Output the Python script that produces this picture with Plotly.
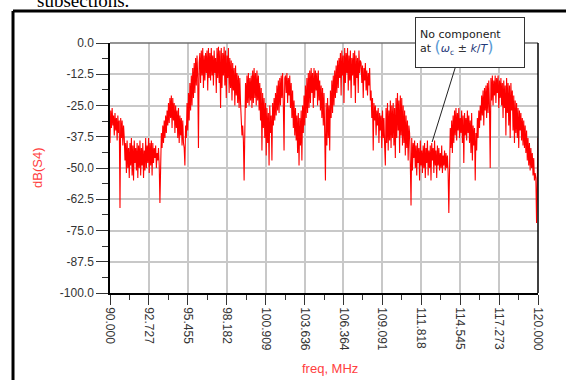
import numpy as np
import plotly.graph_objects as go

# ---- data ----
freq_start = 90.0
freq_stop = 120.0
dB_S4 = [
    # 90.00 - 90.95
    -40, -27, -34, -26, -33, -29, -37, -28, -35, -30, -39, -29, -36, -31, -66, -30, -38, -31, -41, -33,
    # 91
    -38, -47, -40, -52, -39, -50, -42, -54, -40, -49, -38, -53, -41, -55, -39, -48, -42, -51, -40, -54,
    # 92
    -41, -50, -39, -53, -42, -49, -40, -54, -43, -51, -38, -50, -41, -48, -38, -52, -40, -49, -39, -53,
    # 93
    -40, -48, -42, -46, -41, -50, -44, -47, -42, -49, -64, -38, -36, -42, -33, -40, -31, -38, -29, -36,
    # 94
    -27, -33, -24, -32, -22, -30, -21, -34, -22, -31, -24, -36, -25, -34, -27, -38, -26, -40, -29, -37,
    # 95
    -30, -41, -31, -40, -42, -49, -33, -38, -24, -35, -20, -31, -16, -27, -13, -25, -10, -22, -8, -20,
    # 96
    -6, -17, -5, -14, -42, -8, -4, -16, -3, -13, -2, -18, -5, -15, -4, -12, -3, -19, -2, -14,
    # 97
    -4, -15, -2, -13, -5, -17, -3, -12, -6, -20, -2, -14, -1.5, -16, -3, -26, -2, -18, -4, -13,
    # 98
    -1.5, -17, -3, -22, -5, -14, -2, -20, -6, -18, -7, -23, -8, -19, -10, -25, -9, -21, -12, -24,
    # 99
    -13, -26, -14, -24, -30, -37, -33, -39, -55, -31, -16, -26, -13, -24, -12, -25, -14, -23, -13, -26,
    # 100
    -11, -24, -10, -22, -12, -25, -11, -23, -13, -27, -16, -31, -18, -43, -20, -34, -22, -38, -24, -45,
    # 101
    -26, -40, -28, -49, -25, -36, -29, -47, -24, -33, -22, -31, -20, -29, -17, -27, -15, -28, -14, -25,
    # 102
    -13, -22, -12, -25, -43, -14, -13, -20, -12, -24, -14, -21, -13, -26, -16, -30, -19, -34, -23, -37,
    # 103
    -26, -39, -29, -44, -28, -49, -30, -41, -27, -47, -25, -36, -21, -33, -17, -30, -14, -28, -12, -26,
    # 104
    -11, -24, -10, -20, -12, -26, -10, -22, -11, -19, -12, -25, -11, -23, -15, -27, -17, -30, -18, -33,
    # 105
    -20, -36, -55, -24, -41, -22, -38, -25, -43, -19, -30, -15, -28, -13, -25, -11, -22, -9, -20, -7,
    # 106
    -18, -6, -14, -4, -21, -3, -13, -5, -24, -2, -16, -4, -12, -2, -19, -5, -15, -3, -22, -6,
    # 107
    -13, -4, -17, -3, -24, -5, -14, -6, -20, -3, -12, -7, -8, -16, -9, -22, -10, -15, -8, -19,
    # 108
    -11, -21, -12, -17, -10, -23, -19, -30, -22, -43, -24, -31, -25, -37, -27, -33, -26, -40, -28, -35,
    # 109
    -29, -42, -27, -38, -30, -41, -49, -26, -40, -24, -43, -27, -39, -23, -42, -25, -38, -24, -41, -26,
    # 110
    -46, -22, -38, -20, -35, -23, -44, -21, -37, -22, -41, -25, -40, -27, -45, -29, -42, -31, -47, -33,
    # 111
    -36, -48, -65, -38, -51, -40, -46, -39, -50, -41, -53, -40, -48, -42, -55, -39, -49, -43, -52, -41,
    # 112
    -50, -40, -54, -42, -48, -39, -53, -43, -50, -41, -55, -40, -47, -42, -52, -39, -49, -43, -54, -41,
    # 113
    -49, -42, -51, -44, -50, -41, -52, -45, -49, -43, -51, -44, -50, -45, -52, -68, -38, -34, -42, -31,
    # 114
    -44, -29, -40, -27, -37, -26, -39, -28, -35, -26, -38, -30, -36, -27, -40, -29, -48, -28, -37, -30,
    # 115
    -39, -27, -36, -29, -40, -31, -44, -28, -47, -33, -41, -34, -55, -36, -43, -30, -38, -27, -34, -25,
    # 116
    -31, -21, -29, -19, -33, -18, -27, -17, -30, -16, -28, -15, -26, -50, -14, -23, -13, -25, -15, -21,
    # 117
    -13, -24, -14, -20, -13, -26, -15, -22, -14, -25, -16, -30, -15, -26, -17, -37, -14, -28, -16, -33,
    # 118
    -17, -38, -16, -27, -19, -35, -21, -40, -23, -36, -24, -38, -26, -42, -27, -35, -28, -39, -30, -41,
    # 119
    -31, -42, -33, -44, -35, -47, -38, -49, -40, -51, -42, -50, -44, -53, -46, -55, -52, -54, -72, -53,
    # 120.0
    -38,
]
freq = np.linspace(freq_start, freq_stop, len(dB_S4))

y_tick_labels = ["0.0", "-12.5", "-25.0", "-37.5", "-50.0", "-62.5",
                 "-75.0", "-87.5", "-100.0"]
x_tick_labels = ["90.000", "92.727", "95.455", "98.182", "100.909", "103.636",
                 "106.364", "109.091", "111.818", "114.545", "117.273", "120.000"]

y_vals = [float(t) for t in y_tick_labels]
x_vals = [float(t) for t in x_tick_labels]
y_minor = [(a + b) / 2 for a, b in zip(y_vals[:-1], y_vals[1:])]
x_minor = [(a + b) / 2 for a, b in zip(x_vals[:-1], x_vals[1:])]

RED = "#ff0000"
LABEL_RED = "#ff4040"
TICK_FONT = dict(family="Liberation Sans, Arial, sans-serif", size=12, color="#333333")

fig = go.Figure()
fig.add_trace(go.Scatter(
    x=freq, y=dB_S4, mode="lines",
    line=dict(color=RED, width=1.1),
    hoverinfo="skip", showlegend=False,
))

fig.update_layout(
    width=566, height=380,
    margin=dict(l=110, r=28, t=43, b=87),
    paper_bgcolor="white", plot_bgcolor="white",
    showlegend=False,
    xaxis=dict(
        range=[freq_start, freq_stop],
        tickmode="array", tickvals=x_vals, ticktext=x_tick_labels,
        tickangle=90, tickfont=TICK_FONT,
        ticks="outside", ticklen=10, tickwidth=1, tickcolor="#333333",
        showgrid=True, gridcolor="#c8c8c8", gridwidth=1.5,
        showline=True, linecolor="black", linewidth=1.5,
        zeroline=False,
        minor=dict(tickmode="array", tickvals=x_minor, ticks="outside",
                   ticklen=5, tickcolor="#333333", showgrid=False),
    ),
    yaxis=dict(
        range=[-100, 0],
        tickmode="array", tickvals=y_vals, ticktext=y_tick_labels,
        tickfont=TICK_FONT,
        ticks="outside", ticklen=12, tickwidth=1, tickcolor="#333333",
        showgrid=True, gridcolor="#c8c8c8", gridwidth=1.5,
        showline=True, linecolor="black", linewidth=1.5,
        zeroline=False,
        minor=dict(tickmode="array", tickvals=y_minor, ticks="outside",
                   ticklen=6, tickcolor="#333333", showgrid=False),
    ),
)

# plot frame: grey top, black right
fig.add_shape(type="line", xref="paper", yref="paper", x0=0, x1=1, y0=1, y1=1,
              line=dict(color="#707070", width=1.5))
fig.add_shape(type="line", xref="paper", yref="paper", x0=1, x1=1, y0=0, y1=1,
              line=dict(color="black", width=1.5))

# outer document frame
fig.add_shape(type="line", xref="paper", yref="paper", x0=-0.2266, x1=1.2,
              y0=1.128, y1=1.128, line=dict(color="black", width=3))
fig.add_shape(type="line", xref="paper", yref="paper", x0=-0.2266, x1=-0.2266,
              y0=1.128, y1=-0.4, line=dict(color="black", width=3))

# cut-off text above the frame
fig.add_annotation(xref="paper", yref="paper", x=-0.175, y=1.172,
                   xanchor="left", yanchor="middle", showarrow=False,
                   text="subsections.",
                   font=dict(family="Liberation Serif, Times New Roman, serif",
                             size=19, color="black"))

# axis titles
fig.add_annotation(xref="paper", yref="paper", x=-0.1706, y=0.5,
                   xanchor="center", yanchor="middle", showarrow=False,
                   textangle=-90, text="dB(S4)",
                   font=dict(family="Liberation Sans, Arial, sans-serif",
                             size=13, color=LABEL_RED))
fig.add_annotation(xref="paper", yref="paper", x=0.514, y=-0.30,
                   xanchor="center", yanchor="middle", showarrow=False,
                   text="freq, MHz",
                   font=dict(family="Liberation Sans, Arial, sans-serif",
                             size=13, color=LABEL_RED))

# callout
fig.add_shape(type="line", xref="x", yref="y", x0=114.19, y0=-10.0,
              x1=112.58, y1=-39.6, line=dict(color="#222222", width=1))
formula = ('at <span style="color:#5a9bd5;font-size:16px">(</span>'
           '<span style="color:#1f3a7a"><i>ω</i><sub>c</sub></span>'
           ' <span style="color:#333">±</span> '
           '<span style="color:#1f3a7a"><i>k</i>/<i>T</i></span>'
           '<span style="color:#5a9bd5;font-size:16px">)</span>')
fig.add_annotation(xref="paper", yref="paper",
                   x=(470 - 110) / 428, y=(293 - 42.5) / 250,
                   xanchor="center", yanchor="middle", showarrow=False,
                   text="No component<br>" + formula, align="left",
                   width=100, height=41,
                   bgcolor="white", bordercolor="#333333", borderwidth=1,
                   borderpad=4,
                   font=dict(family="DejaVu Sans, sans-serif", size=11,
                             color="#222222"))

fig.write_html("out.html", config={"displayModeBar": False},
               post_script="document.body.style.margin='0';")
